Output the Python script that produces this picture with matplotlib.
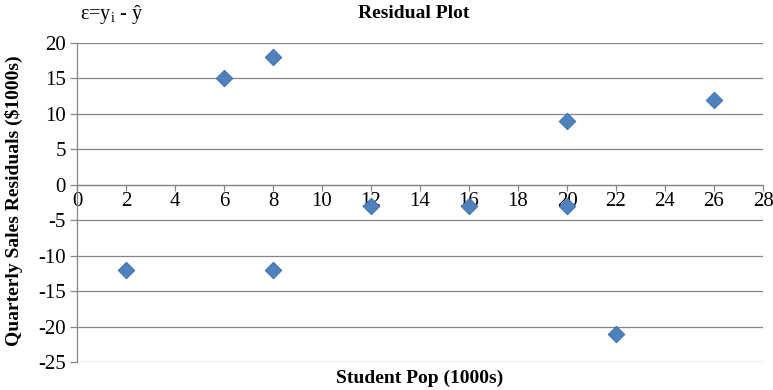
import matplotlib
matplotlib.use("Agg")
import matplotlib.pyplot as plt

# Student population (1000s) and residuals of quarterly sales ($1000s)
student_pop = [2, 6, 8, 8, 12, 16, 20, 20, 22, 26]
residuals = [-12, 15, -12, 18, -3, -3, -3, 9, -21, 12]

x_ticks = list(range(0, 29, 2))
y_ticks = list(range(-25, 21, 5))

plt.rcParams["font.family"] = ["Liberation Serif", "DejaVu Serif"]
plt.rcParams["mathtext.fontset"] = "custom"
plt.rcParams["mathtext.rm"] = "Liberation Serif"
plt.rcParams["mathtext.it"] = "Liberation Serif:italic"
plt.rcParams["axes.unicode_minus"] = False

grid_c = "#878787"

fig = plt.figure(figsize=(7.73, 3.90), dpi=100)
ax = fig.add_axes([77 / 773, 1 - 362 / 390, 686 / 773, (362 - 43) / 390])

ax.scatter(student_pop, residuals, marker="D", s=72, color="#4F81BD",
           edgecolors="#3F6EA8", linewidths=0.6, zorder=3)

ax.set_xlim(0, 28)
ax.set_ylim(-25, 20)
ax.set_xticks(x_ticks)
ax.set_yticks(y_ticks)

# horizontal gridlines
for y in y_ticks:
    ax.axhline(y, color=grid_c, lw=0.9, zorder=1)

for s in ["top", "right"]:
    ax.spines[s].set_visible(False)
ax.spines["left"].set_color(grid_c)
ax.spines["left"].set_linewidth(0.9)
# x axis crosses at zero
ax.spines["bottom"].set_position(("data", 0))
ax.spines["bottom"].set_color(grid_c)
ax.spines["bottom"].set_linewidth(0.9)

ax.tick_params(axis="both", colors=grid_c, labelcolor="black", labelsize=15,
               width=0.9)
ax.tick_params(axis="y", length=5, pad=3)
ax.tick_params(axis="x", length=4, pad=1, direction="out")

fig.text(414 / 773, 1 - 14 / 390, "Residual Plot", ha="center", va="center",
         fontsize=14, fontweight="bold")
fig.text(80 / 773, 1 - 14 / 390, r"ε=y$_\mathrm{i}$ - ŷ", ha="left", va="center",
         fontsize=14.5)
fig.text(420 / 773, 1 - 378 / 390, "Student Pop (1000s)", ha="center", va="center",
         fontsize=14, fontweight="bold")
fig.text(14 / 773, 1 - 201 / 390, "Quarterly Sales Residuals ($1000s)",
         ha="center", va="center", rotation=90, fontsize=14, fontweight="bold")

fig.savefig("out.png", dpi=100)
